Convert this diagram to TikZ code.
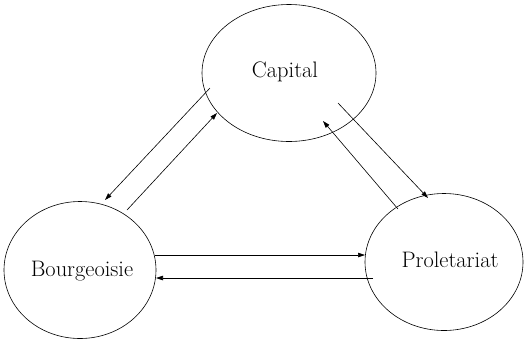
\documentclass[tikz,border=0pt]{standalone}
\usetikzlibrary{shapes.geometric,arrows.meta,calc}
\begin{document}
\begin{tikzpicture}[x=1bp,y=-1bp,
  classnode/.style={draw,ellipse,line width=0.6bp,inner sep=0pt},
  classlabel/.style={font=\fontsize{22.5}{26}\selectfont},
  flow/.style={line width=0.6bp,-{Triangle[length=7bp,width=4.5bp]}}]
\useasboundingbox (0,0) rectangle (527,341);
% the three classes
\node[classnode,minimum width=174bp,minimum height=137bp] (cap) at (289,73) {};
\node[classnode,minimum width=152bp,minimum height=137bp] (bour) at (80,270) {};
\node[classnode,minimum width=158bp,minimum height=137bp] (prol) at (444,262) {};
\node[classlabel] (capt) at (285,72) {Capital};
\node[classlabel] (bourt) at (82,271) {Bourgeoisie};
\node[classlabel] (prolt) at (450,260) {Proletariat};
% relations between capital and bourgeoisie
\draw[flow] ($(cap.center)+(-79,15)$) -- ($(bour.center)+(25,-70)$);
\draw[flow] ($(bour.center)+(47,-60)$) -- ($(cap.center)+(-72,40)$);
% relations between capital and proletariat
\draw[flow] ($(cap.center)+(49,30)$) -- ($(prol.center)+(-16,-64)$);
\draw[flow] ($(prol.center)+(-46,-53)$) -- ($(cap.center)+(34,48)$);
% relations between bourgeoisie and proletariat
\draw[flow] ($(bour.center)+(75,-15)$) -- ($(prol.center)+(-79,-7)$);
\draw[flow] ($(prol.center)+(-71,16)$) -- ($(bour.center)+(76,8)$);
\end{tikzpicture}
\end{document}
